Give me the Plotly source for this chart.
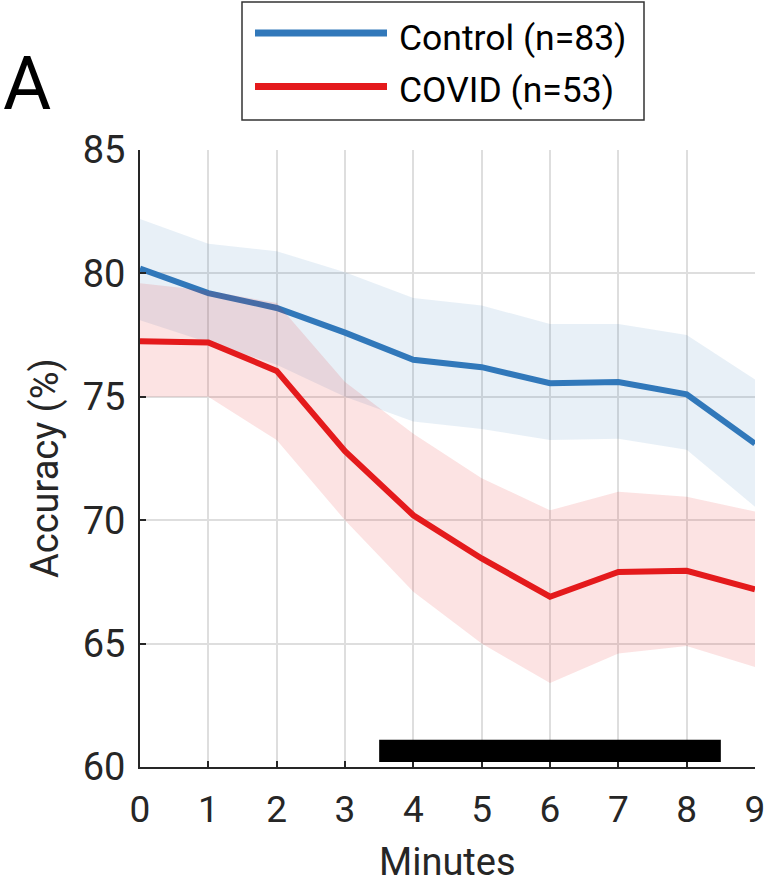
import plotly.graph_objects as go

minutes = [0, 1, 2, 3, 4, 5, 6, 7, 8, 9]

control_mean = [80.2, 79.2, 78.6, 77.6, 76.5, 76.2, 75.55, 75.6, 75.1, 73.1]
control_upper = [82.2, 81.2, 80.9, 80.05, 79.0, 78.7, 77.95, 77.95, 77.5, 75.7]
control_lower = [78.1, 77.2, 76.3, 75.0, 74.0, 73.7, 73.25, 73.3, 72.85, 70.55]

covid_mean = [77.25, 77.2, 76.05, 72.8, 70.2, 68.45, 66.9, 67.9, 67.95, 67.2]
covid_upper = [79.6, 79.3, 78.8, 75.6, 73.5, 71.7, 70.4, 71.15, 70.95, 70.35]
covid_lower = [75.0, 75.0, 73.25, 70.0, 67.1, 65.0, 63.4, 64.6, 64.9, 64.05]

sig_start, sig_end = 3.5, 8.5
sig_low, sig_high = 60.2, 61.1

labels = ["Control (n=83)", "COVID (n=53)"]
blue = "rgb(49,120,186)"
red = "rgb(228,26,28)"
blue_fill = "rgba(49,120,186,0.11)"
red_fill = "rgba(228,26,28,0.12)"

FONT = "Roboto, Noto Sans, sans-serif"
TXT = "#262626"

fig = go.Figure()
fig.add_trace(go.Scatter(x=minutes + minutes[::-1], y=control_upper + control_lower[::-1],
                         fill="toself", fillcolor=blue_fill, line=dict(width=0),
                         mode="lines", showlegend=False, hoverinfo="skip"))
fig.add_trace(go.Scatter(x=minutes, y=control_mean, mode="lines",
                         line=dict(color=blue, width=6), name=labels[0], showlegend=False))
fig.add_trace(go.Scatter(x=minutes + minutes[::-1], y=covid_upper + covid_lower[::-1],
                         fill="toself", fillcolor=red_fill, line=dict(width=0),
                         mode="lines", showlegend=False, hoverinfo="skip"))
fig.add_trace(go.Scatter(x=minutes, y=covid_mean, mode="lines",
                         line=dict(color=red, width=6), name=labels[1], showlegend=False))

# significance bar
fig.add_shape(type="rect", xref="x", yref="y", x0=sig_start, x1=sig_end,
              y0=sig_low, y1=sig_high, fillcolor="black", line=dict(width=0))

W, H = 765, 892
L, R, T, B = 140, 10, 150, 125
pw, ph = W - L - R, H - T - B


def px(xp):
    return (xp - L) / pw


def py(yp):
    return (H - B - yp) / ph


# manual legend
fig.add_shape(type="rect", xref="paper", yref="paper", x0=px(242), x1=px(644),
              y0=py(120), y1=py(2), line=dict(color="#333333", width=1.5),
              fillcolor="white")
for i, (lab, col) in enumerate(zip(labels, [blue, red])):
    ly = [33, 86.5][i]
    ty = [38, 90][i]
    fig.add_shape(type="line", xref="paper", yref="paper", x0=px(255), x1=px(387),
                  y0=py(ly), y1=py(ly), line=dict(color=col, width=7))
    fig.add_annotation(x=px(397), y=py(ty), xref="paper", yref="paper", text=lab,
                       showarrow=False, xanchor="left", yanchor="middle",
                       font=dict(family=FONT, size=35.5, color="black"))

fig.add_annotation(x=px(27), y=py(83), xref="paper", yref="paper", text="A",
                   showarrow=False, xanchor="center", yanchor="middle",
                   font=dict(family=FONT, size=74, color="black"))
fig.add_annotation(x=px(447), y=py(862), xref="paper", yref="paper", text="Minutes",
                   showarrow=False, xanchor="center", yanchor="middle",
                   font=dict(family=FONT, size=38, color=TXT))
fig.add_annotation(x=px(45), y=py(468), xref="paper", yref="paper", text="Accuracy (%)",
                   showarrow=False, xanchor="center", yanchor="middle", textangle=-90,
                   font=dict(family=FONT, size=38, color=TXT))

fig.update_layout(
    width=W, height=H, margin=dict(l=L, r=R, t=T, b=B, autoexpand=False),
    plot_bgcolor="white", paper_bgcolor="white",
    font=dict(family=FONT, color=TXT),
    showlegend=False,
)
fig.update_xaxes(range=[0, 9], tickvals=minutes, showgrid=True,
                 gridcolor="rgb(222,222,222)", gridwidth=1.5,
                 showline=True, linecolor=TXT, linewidth=2,
                 ticks="inside", ticklen=6, tickwidth=2, tickcolor=TXT,
                 tickfont=dict(size=37, family=FONT, color=TXT),
                 ticklabelstandoff=9, ticklabeloverflow="allow", zeroline=False,
                 automargin=False)
fig.update_yaxes(range=[60, 85], tickvals=[60, 65, 70, 75, 80, 85], showgrid=True,
                 gridcolor="rgb(222,222,222)", gridwidth=1.5,
                 showline=True, linecolor=TXT, linewidth=2,
                 ticks="inside", ticklen=6, tickwidth=2, tickcolor=TXT,
                 tickfont=dict(size=38, family=FONT, color=TXT),
                 ticklabelstandoff=5, ticklabeloverflow="allow", zeroline=False,
                 automargin=False)

fig.write_html("out.html", config={"displayModeBar": False},
               post_script="document.body.style.margin='0';")
